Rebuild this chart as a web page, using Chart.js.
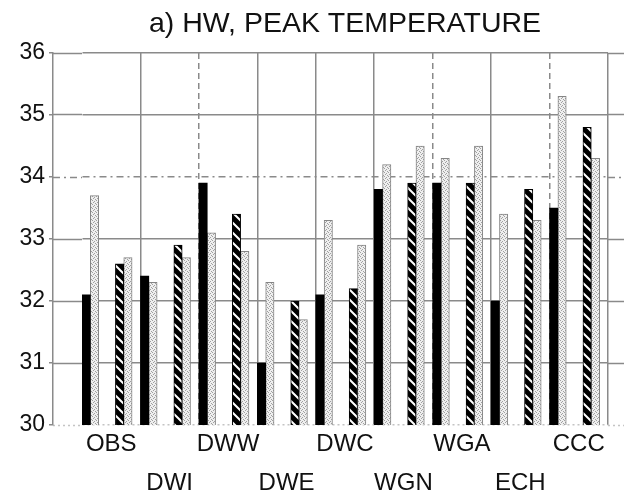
<!DOCTYPE html>
<html>
<head>
<meta charset="utf-8">
<script src="https://cdn.jsdelivr.net/npm/chart.js@4"></script>
<style>
  html, body { margin: 0; padding: 0; background: #fff; }
</style>
</head>
<body>
<canvas id="chart" width="624" height="500"></canvas>
<script>
// groups along the x axis, labels alternate between two rows
const groups = ['OBS', 'DWI', 'DWW', 'DWE', 'DWC', 'WGN', 'WGA', 'ECH', 'CCC'];
// four bars per group: solid, stippled, hatched, stippled
const solidVals = [32.1, 32.4, 33.9, 31.0, 32.1, 33.8, 33.9, 32.0, 33.5];
const dotVals1  = [33.7, 32.3, 33.1, 32.3, 33.3, 34.2, 34.3, 33.4, 35.3];
const hatchVals = [32.6, 32.9, 33.4, 32.0, 32.2, 33.9, 33.9, 33.8, 34.8];
const dotVals2  = [32.7, 32.7, 32.8, 31.7, 32.9, 34.5, 34.5, 33.3, 34.3];
const blankVals = groups.map(() => null);
const yMin = 30, yMax = 36, yStep = 1;

const labels = groups.map((g, i) => i % 2 ? ['', g] : [g]);
const fontFam = '"Liberation Sans", Arial, Helvetica, sans-serif';
const gridGray = '#8a8a8a';

function makeHatch() {
    const c = document.createElement('canvas');
    c.width = 10; c.height = 10;
    const g = c.getContext('2d');
    g.fillStyle = '#000';
    g.fillRect(0, 0, 10, 10);
    g.strokeStyle = '#fff';
    g.lineWidth = 2;
    g.beginPath();
    g.moveTo(-2, -2); g.lineTo(12, 12);
    g.moveTo(-12, -2); g.lineTo(2, 12);
    g.moveTo(8, -2); g.lineTo(22, 12);
    g.stroke();
    return g.createPattern(c, 'repeat');
}

function makeStipple() {
    const c = document.createElement('canvas');
    c.width = 4; c.height = 4;
    const g = c.getContext('2d');
    g.fillStyle = '#efefef';
    g.fillRect(0, 0, 4, 4);
    g.fillStyle = '#a0a0a0';
    g.fillRect(0, 0, 1, 1);
    g.fillRect(2, 1, 1, 1);
    g.fillRect(1, 2, 1, 1);
    g.fillRect(3, 3, 1, 1);
    return g.createPattern(c, 'repeat');
}

const hatch = makeHatch();
const stipple = makeStipple();

function yLineDash(ctx) {
    if (ctx.type !== 'tick' || !ctx.tick) return [];
    if (ctx.tick.value === 34) return [7, 4, 2, 4];
    if (ctx.tick.value === 30) return [2, 3];
    return [];
}
function yLineColor(ctx) {
    if (ctx.tick && ctx.tick.value === 30) return '#c4c4c4';
    return gridGray;
}

// vertical separators between groups; outer edges hidden
const dashedSeps = [2, 6, 8];

new Chart(document.getElementById('chart'), {
    type: 'bar',
    data: {
        labels: labels,
        datasets: [
            { data: solidVals, backgroundColor: '#000', borderWidth: 0 },
            { data: dotVals1, backgroundColor: stipple, borderColor: '#858585', borderWidth: 1 },
            { data: blankVals },
            { data: blankVals },
            { data: hatchVals, backgroundColor: hatch, borderColor: '#000', borderWidth: 1 },
            { data: dotVals2, backgroundColor: stipple, borderColor: '#858585', borderWidth: 1 },
            { data: blankVals }
        ]
    },
    options: {
        responsive: false,
        animation: false,
        devicePixelRatio: 1,
        layout: { padding: 0 },
        datasets: {
            bar: { categoryPercentage: 1, barPercentage: 1 }
        },
        plugins: {
            legend: { display: false },
            tooltip: { enabled: false },
            title: {
                display: true,
                fullSize: false,
                text: 'a) HW, PEAK TEMPERATURE',
                color: '#111',
                font: { family: fontFam, size: 28.5, weight: 'normal', lineHeight: 1.2 },
                padding: { top: 7, bottom: 11.8 }
            }
        },
        scales: {
            x: {
                offset: true,
                grid: {
                    offset: true,
                    drawTicks: false,
                    color: gridGray,
                    lineWidth: ctx => (ctx.index === 0 || ctx.index >= groups.length) ? 0 : 1.5
                },
                border: {
                    display: false,
                    dash: ctx => (ctx.type === 'tick' && dashedSeps.includes(ctx.index)) ? [6, 4] : []
                },
                ticks: {
                    color: '#111',
                    autoSkip: false,
                    maxRotation: 0,
                    padding: 0,
                    font: { family: fontFam, size: 24, lineHeight: 1.625 }
                },
                afterFit: s => { s.height = 75; }
            },
            y: {
                position: 'left',
                weight: 1,
                min: yMin,
                max: yMax,
                ticks: {
                    stepSize: yStep,
                    padding: 4,
                    color: '#111',
                    font: { family: fontFam, size: 23 }
                },
                grid: {
                    color: yLineColor,
                    lineWidth: 1.5,
                    tickLength: 4,
                    tickColor: gridGray
                },
                border: { display: true, color: gridGray, width: 1.5, dash: yLineDash },
                afterFit: s => { s.width = 53; }
            },
            yIn: {
                position: 'left',
                weight: 0,
                min: yMin,
                max: yMax,
                ticks: { display: false, stepSize: yStep },
                grid: {
                    drawOnChartArea: false,
                    tickLength: 29,
                    tickWidth: 1.5,
                    tickColor: yLineColor,
                    tickBorderDash: yLineDash
                },
                border: { display: false },
                afterFit: s => { s.width = 29; }
            },
            yR: {
                position: 'right',
                min: yMin,
                max: yMax,
                ticks: { display: false, stepSize: yStep },
                grid: {
                    drawOnChartArea: false,
                    tickLength: 16,
                    tickWidth: 1.5,
                    tickColor: yLineColor,
                    tickBorderDash: yLineDash
                },
                border: { display: false },
                afterFit: s => { s.width = 16; }
            }
        }
    }
});
</script>
</body>
</html>
